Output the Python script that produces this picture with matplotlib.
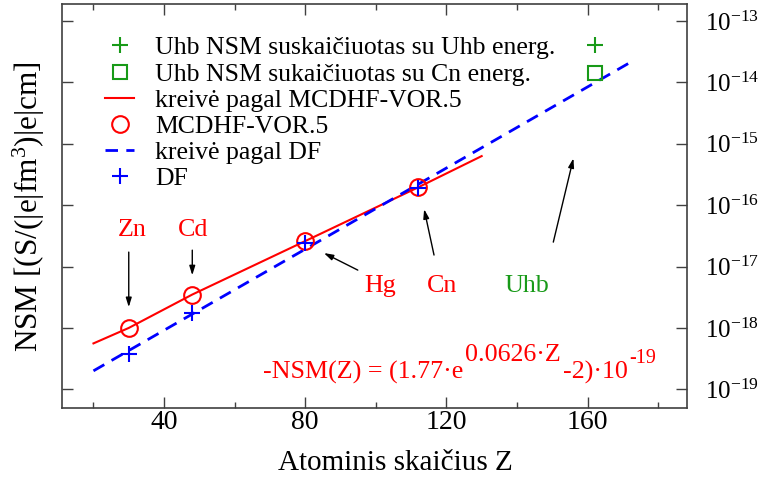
import numpy as np
import matplotlib
matplotlib.use("Agg")
import matplotlib.pyplot as plt
from matplotlib.lines import Line2D
from matplotlib.ticker import MultipleLocator, NullLocator, FixedLocator

plt.rcParams['font.family'] = ['Liberation Serif', 'DejaVu Serif']
plt.rcParams['mathtext.fontset'] = 'custom'
plt.rcParams['mathtext.rm'] = 'Liberation Serif'
plt.rcParams['mathtext.it'] = 'Liberation Serif:italic'

# MCDHF-VOR.5 results (circles) and DF results (crosses)
z_mcdhf = [30, 48, 80, 112]
nsm_mcdhf = [1.0e-18, 3.5e-18, 2.6e-17, 1.95e-16]
z_df = [30, 48, 80, 112]
nsm_df = [3.7e-19, 1.77e-18, 2.45e-17, 1.9e-16]

# fitted curves, values
z_fit_mcdhf = [20, 30, 48, 80, 112, 130]
nsm_fit_mcdhf = [5.6e-19, 1.0e-18, 3.5e-18, 2.6e-17, 1.95e-16, 6.3e-16]
z_fit_df = [20, 172]
nsm_fit_df = [2.0e-19, 2.1e-14]

# Uhb estimates
z_uhb = [162]
nsm_uhb_own = [4.0e-14]
nsm_uhb_cn = [1.43e-14]

y_ticks = [1e-19, 1e-18, 1e-17, 1e-16, 1e-15, 1e-14, 1e-13]

RED = '#ff0000'
BLUE = '#0000ff'
GREEN = '#189a18'
AX = '#404040'

fig = plt.figure(figsize=(7.61, 4.78), dpi=100)
ax = fig.add_axes([61.7 / 761, 1 - 408.3 / 478, 625 / 761, 404.5 / 478])

ax.plot(z_fit_mcdhf, nsm_fit_mcdhf, color=RED, lw=1.5)
ax.plot(z_fit_df, nsm_fit_df, color=BLUE, lw=2, linestyle=(0, (4.5, 3)))
ax.plot(z_mcdhf, nsm_mcdhf, 'o', ms=12, mfc='none', mec=RED, mew=1.5)
ax.plot(z_df, nsm_df, '+', ms=11, color=BLUE, mew=1.5)
ax.plot(z_uhb, nsm_uhb_own, '+', ms=12, color=GREEN, mew=1.5)
ax.plot(z_uhb, nsm_uhb_cn, 's', ms=10, mfc='none', mec=GREEN, mew=1.5)

ax.set_yscale('log')
ax.set_xlim(11, 188.1)
ax.set_ylim(10 ** -19.309, 10 ** -12.72)

ax.xaxis.set_major_locator(MultipleLocator(40))
ax.xaxis.set_minor_locator(MultipleLocator(20))
ax.yaxis.set_major_locator(FixedLocator(y_ticks))
ax.yaxis.set_minor_locator(NullLocator())
ax.tick_params(axis='x', which='both', direction='in', top=True, bottom=True,
               labelsize=20, pad=1, color=AX)
ax.tick_params(axis='x', which='major', length=8, width=1)
ax.tick_params(axis='x', which='minor', length=4.5, width=1)
ax.tick_params(axis='y', which='major', direction='in', left=True, right=True,
               labelleft=False, labelright=True, labelsize=18, pad=13,
               length=8, width=1, color=AX)
for s in ax.spines.values():
    s.set_color(AX)
    s.set_linewidth(1.2)

ax.set_xlabel('Atominis skaičius Z', fontsize=21)
ax.xaxis.set_label_coords((395.8 - 61.7) / 625, (408.3 - 470) / 404.5)
ax.xaxis.label.set_va('baseline')
fig.text(29 / 761, 1 - 351.7 / 478, r'NSM [(S/(|e|fm$^3$)|e|cm]', fontsize=22.5,
         rotation=90, ha='center', va='bottom')

# legend
handles = [
    Line2D([], [], ls='none', marker='+', ms=12, color=GREEN, mew=1.5),
    Line2D([], [], ls='none', marker='s', ms=10, mfc='none', mec=GREEN, mew=1.5),
    Line2D([], [], color=RED, lw=1.5),
    Line2D([], [], ls='none', marker='o', ms=12, mfc='none', mec=RED, mew=1.5),
    Line2D([], [], color=BLUE, lw=2, linestyle=(0, (4.5, 3))),
    Line2D([], [], ls='none', marker='+', ms=12, color=BLUE, mew=1.5),
]
labels = ['Uhb NSM suskaičiuotas su Uhb energ.',
          'Uhb NSM sukaičiuotas su Cn energ.',
          'kreivė pagal MCDHF-VOR.5',
          'MCDHF-VOR.5',
          'kreivė pagal DF',
          'DF']
ax.legend(handles, labels, loc='upper left', bbox_to_anchor=((105 - 61.7) / 625, (408.3 - 36.5) / 404.5),
          frameon=False, fontsize=18.5, borderpad=0, borderaxespad=0, labelspacing=0.12,
          handlelength=1.13, handletextpad=0.82)

# element labels and arrows
arrow = dict(arrowstyle='-|>,head_length=0.55,head_width=0.17', color='black', lw=1,
             shrinkA=0, shrinkB=0)
ax.annotate('', xy=(30, 2.18e-18), xytext=(30, 1.72e-17), arrowprops=arrow)
ax.annotate('', xy=(48, 7.2e-18), xytext=(48, 1.85e-17), arrowprops=arrow)
ax.annotate('', xy=(85.3, 1.66e-17), xytext=(94.9, 8.75e-18), arrowprops=arrow)
ax.annotate('', xy=(113.7, 8.6e-17), xytext=(116.5, 1.54e-17), arrowprops=arrow)
ax.annotate('', xy=(156.0, 5.8e-16), xytext=(150.3, 2.5e-17), arrowprops=arrow)

lab = dict(fontsize=18.7, ha='center', va='baseline')
ax.text(31.1, 3.13e-17, 'Zn', color=RED, **lab)
ax.text(48.1, 3.13e-17, 'Cd', color=RED, **lab)
ax.text(101.2, 3.84e-18, 'Hg', color=RED, **lab)
ax.text(118.75, 3.84e-18, 'Cn', color=RED, **lab)
ax.text(142.7, 3.84e-18, 'Uhb', color=GREEN, **lab)

# fit formula
t1 = ax.text(68.06, 1.48e-19, '-NSM(Z) = (1.77·e', color=RED, fontsize=18.7, ha='left', va='baseline')
t2 = ax.annotate('0.0626·Z', xy=(1, 0), xycoords=(t1, t1), xytext=(1, 13), textcoords='offset points',
                 color=RED, fontsize=18.7, ha='left', va='bottom')
t3 = ax.annotate('-2)·10', xy=(1, 0), xycoords=(t2, t1), xytext=(2, 0), textcoords='offset points',
                 color=RED, fontsize=18.7, ha='left', va='bottom')
ax.annotate('-19', xy=(1, 0), xycoords=(t3, t1), xytext=(1, 12), textcoords='offset points',
            color=RED, fontsize=14.5, ha='left', va='bottom')

fig.savefig('out.png', dpi=100)
